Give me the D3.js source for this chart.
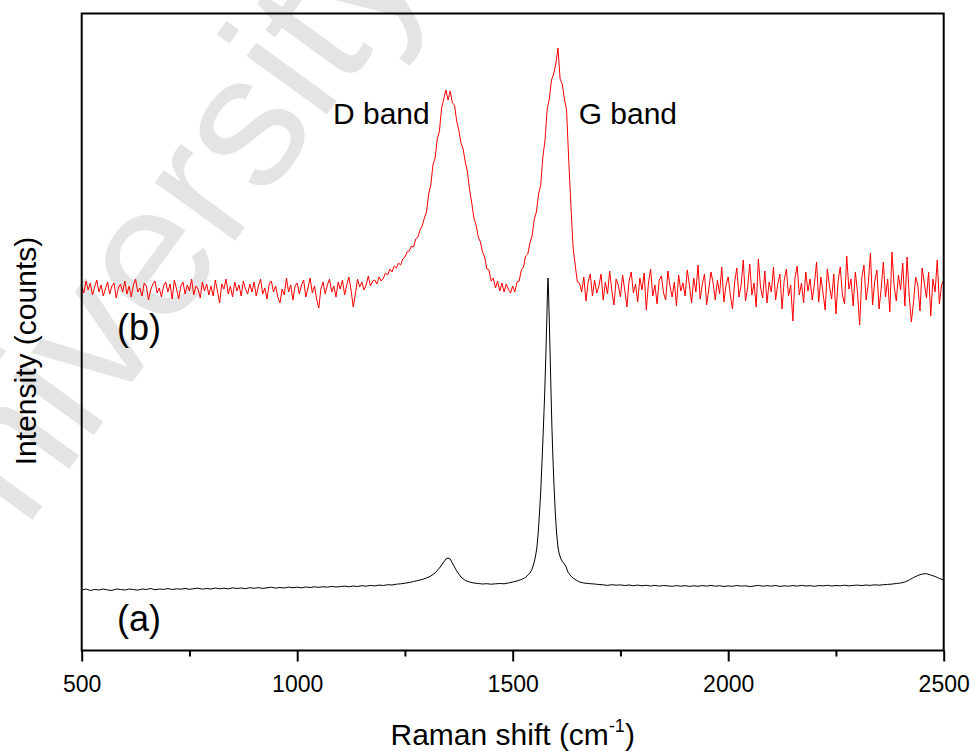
<!DOCTYPE html>
<html>
<head>
<meta charset="utf-8">
<script src="https://cdn.jsdelivr.net/npm/d3@7"></script>
<style>
  body { margin: 0; background: #fff; }
  text { font-family: "Liberation Sans", Arial, sans-serif; }
</style>
</head>
<body>
<div id="chart"></div>
<script>
// x axis ticks (Raman shift, cm-1)
var majorTicks = [500, 1000, 1500, 2000, 2500];
var minorTicks = [750, 1250, 1750, 2250];

// spectrum (a): [raman shift, intensity] pairs
var spectrumA = [
  [500,62],[510,63],[520,61.5],[530,62.5],[540,62],[550,63],[560,62],[570,61.5],[580,63],[590,62.5],
  [600,62],[610,63],[620,62.5],[630,61.8],[640,63],[650,62.5],[660,63.5],[670,62.2],[680,63],[690,62.6],
  [700,63.4],[710,62.5],[720,63.2],[730,62.8],[740,63.6],[750,62.7],[760,63.3],[770,63.8],[780,62.9],[790,63.5],
  [800,63],[810,64],[820,63.2],[830,63.8],[840,63.1],[850,64.2],[860,63.5],[870,64],[880,63.3],[890,64.3],
  [900,63.7],[910,64.4],[920,63.6],[930,64.2],[940,64.8],[950,63.9],[960,64.5],[970,64],[980,64.9],[990,64.3],
  [1000,64.8],[1010,64.2],[1020,65],[1030,64.5],[1040,65.2],[1050,64.6],[1060,65.3],[1070,64.8],[1080,65.6],[1090,65],
  [1100,65.4],[1110,65.9],[1120,65.2],[1130,66],[1140,65.5],[1150,66.3],[1160,65.8],[1170,66.6],[1180,66.1],[1190,66.9],
  [1200,66.5],[1210,67.3],[1220,67],[1230,67.8],[1240,68.2],[1250,68.8],[1260,69.5],[1270,70.5],[1280,71.5],[1290,72.5],
  [1300,74],[1310,76],[1320,79],[1330,84],[1335,87],[1340,90],[1345,93],[1350,94],[1355,93],[1360,89],
  [1365,85],[1370,81],[1380,75],[1390,71.5],[1400,70],[1410,69],[1420,68.5],[1430,68],[1440,68.3],[1450,67.8],
  [1460,68.2],[1470,68.5],[1480,68.2],[1490,69],[1500,70],[1510,71],[1520,72.5],[1530,74.5],[1535,77],[1540,79],
  [1545,83],[1550,90],[1553,96],[1556,104],[1559,118],[1562,138],[1565,160],[1568,190],[1571,222],[1574,256],
  [1577,298],[1579,330],[1581,365],[1582,374],[1583,362],[1585,330],[1587,295],[1589,258],[1591,225],[1593,198],
  [1596,165],[1599,138],[1602,118],[1605,105],[1608,98],[1612,93],[1616,90],[1620,88],[1624,85],[1628,80],
  [1635,76],[1640,74],[1647,72],[1655,70],[1665,69],[1675,68.5],[1690,68],
  [1700,67.5],[1710,67.2],[1720,66.6],[1730,67.3],[1740,66.8],[1750,67.1],[1760,66.5],[1770,67],[1780,66.3],[1790,66.9],
  [1800,66.2],[1810,66.7],[1820,66],[1830,66.6],[1840,65.9],[1850,66.5],[1860,66.1],[1870,65.7],[1880,66.4],[1890,65.8],
  [1900,66.3],[1910,65.6],[1920,66.2],[1930,65.7],[1940,66.4],[1950,65.9],[1960,66.6],[1970,65.8],[1980,66.3],[1990,65.5],
  [2000,66.1],[2010,65.7],[2020,66.5],[2030,65.9],[2040,66.2],[2050,65.4],[2060,66],[2070,66.6],[2080,65.8],[2090,66.3],
  [2100,65.9],[2110,66.5],[2120,65.6],[2130,66.2],[2140,65.8],[2150,66.4],[2160,65.9],[2170,66.6],[2180,66],[2190,66.3],
  [2200,65.7],[2210,66.4],[2220,66.1],[2230,66.7],[2240,66],[2250,66.5],[2260,66.2],[2270,66.8],[2280,66.1],[2290,66.6],
  [2300,66.9],[2310,66.4],[2320,67],[2330,66.6],[2340,67.2],[2350,66.8],[2360,67.3],[2370,67.6],[2380,67.9],[2390,68.5],
  [2400,69],[2410,70],[2420,72],[2430,74.5],[2440,76.5],[2450,78],[2460,78.3],[2470,77],[2480,75.5],[2490,73.5],
  [2500,72]
];

// spectrum (b): intensities every 5 cm-1 starting at 500
var spectrumBStart = 500;
var spectrumBStep = 5;
var spectrumB = [
  366,359,371,362,369,357,365,372,360,367,356,363,370,358,366,369,354,364,368,360,
  371,358,366,355,367,373,360,364,356,369,366,352,362,368,371,359,364,355,366,370,
  360,368,353,372,363,353,366,370,358,367,361,373,357,366,363,354,370,361,368,357,
  366,356,372,361,349,368,363,373,358,366,355,370,361,367,356,371,363,358,368,360,
  370,356,366,373,358,364,353,368,371,360,366,355,349,363,357,374,360,367,352,366,
  369,358,367,372,355,364,374,359,366,353,344,363,370,358,367,373,360,366,355,370,
  363,372,357,367,375,362,345,358,373,365,370,362,367,376,366,371,372,368,375,371,
  374,379,377,383,380,386,384,389,387,393,395,400,401,406,405,413,415,422,426,434,
  440,458,467,487,494,513,521,544,553,562,552,561,549,547,531,522,509,503,490,480,
  462,449,434,427,415,410,400,395,383,382,371,374,364,371,361,369,360,368,363,359,
  366,360,370,371,382,385,396,398,409,416,433,440,458,467,495,512,543,553,572,578,
  588,604,573,568,553,542,492,447,405,387,370,369,360,375,351,370,378,356,372,359,
  366,378,352,370,358,381,361,347,373,367,355,377,362,345,371,380,359,368,350,374,
  362,379,342,369,383,356,367,348,372,376,359,352,381,366,355,370,346,377,361,369,
  356,382,367,349,374,360,387,353,368,378,347,363,380,369,352,372,358,385,350,367,
  375,357,343,370,384,355,367,392,351,364,388,357,369,345,393,365,354,381,349,370,
  360,385,352,368,378,343,372,383,356,367,331,374,386,357,369,349,380,361,373,352,
  368,390,350,375,359,342,383,366,353,378,338,371,385,357,348,396,363,373,346,380,
  360,327,374,387,352,368,399,347,371,382,343,364,390,355,373,340,400,366,351,377,
  362,389,346,395,356,330,350,375,367,341,384,369,354,380,336,373,360,392,348,367,
  372
];

// text annotations, placed in data units (raman shift, intensity)
var bandLabels = [
  { text: "D band", x: 1083, y: 528 },
  { text: "G band", x: 1653, y: 528 }
];
var traceLabels = [
  { text: "(a)", x: 582, y: 21 },
  { text: "(b)", x: 582, y: 312 }
];

var width = 974, height = 751;
var margin = { top: 13.5, right: 30.3, bottom: 100.5, left: 81.7 };

var svg = d3.select('#chart').append('svg')
  .attr('width', width)
  .attr('height', height);

// faint watermark behind the plot
svg.append('text')
  .attr('transform', 'translate(-55,640) rotate(-54)')
  .style('font-size', '188px')
  .style('fill', '#e4e4e4')
  .text('University');

var x = d3.scaleLinear()
  .domain([500, 2500])
  .range([margin.left, width - margin.right]);

var y = d3.scaleLinear()
  .domain([1.5, 638.5])
  .range([height - margin.bottom, margin.top]);

svg.append('clipPath').attr('id', 'plot-clip')
  .append('rect')
  .attr('x', margin.left).attr('y', margin.top)
  .attr('width', x.range()[1] - x.range()[0])
  .attr('height', y.range()[0] - y.range()[1]);

var line = d3.line()
  .x(function(d) { return x(d[0]); })
  .y(function(d) { return y(d[1]); });

var bPoints = spectrumB.map(function(v, i) {
  return [spectrumBStart + i * spectrumBStep, v];
});

var plot = svg.append('g').attr('clip-path', 'url(#plot-clip)');

plot.append('path')
  .datum(bPoints)
  .attr('fill', 'none')
  .attr('stroke', '#ff0000')
  .attr('stroke-width', 1)
  .attr('d', line);

plot.append('path')
  .datum(spectrumA)
  .attr('fill', 'none')
  .attr('stroke', '#000')
  .attr('stroke-width', 1)
  .attr('d', line);

// frame
svg.append('rect')
  .attr('x', margin.left)
  .attr('y', margin.top)
  .attr('width', x.range()[1] - x.range()[0])
  .attr('height', y.range()[0] - y.range()[1])
  .attr('fill', 'none')
  .attr('stroke', '#000')
  .attr('stroke-width', 2);

// bottom axis: major ticks with labels, minor ticks without
var xAxis = svg.append('g')
  .attr('transform', 'translate(0,' + (height - margin.bottom) + ')')
  .call(d3.axisBottom(x).tickValues(majorTicks).tickSize(11).tickSizeOuter(0).tickPadding(14)
    .tickFormat(d3.format('d')));
xAxis.select('.domain').remove();
xAxis.selectAll('line').attr('stroke-width', 2);
xAxis.selectAll('text')
  .style('font-size', '23px')
  .style('font-family', '"Liberation Sans", Arial, sans-serif')
  .attr('fill', '#000');

var xMinor = svg.append('g')
  .attr('transform', 'translate(0,' + (height - margin.bottom) + ')')
  .call(d3.axisBottom(x).tickValues(minorTicks).tickSize(6).tickSizeOuter(0).tickFormat(''));
xMinor.select('.domain').remove();
xMinor.selectAll('line').attr('stroke-width', 2);

// axis titles
var xTitle = svg.append('text')
  .attr('x', (x.range()[0] + x.range()[1]) / 2)
  .attr('y', 745)
  .attr('text-anchor', 'middle')
  .style('font-size', '30px');
xTitle.append('tspan').text('Raman shift (cm');
xTitle.append('tspan').attr('dy', -13).style('font-size', '18px').text('-1');
xTitle.append('tspan').attr('dy', 13).text(')');

svg.append('text')
  .attr('transform', 'translate(36,351) rotate(-90)')
  .attr('text-anchor', 'middle')
  .style('font-size', '30px')
  .text('Intensity (counts)');

// band labels
svg.selectAll('.band-label')
  .data(bandLabels)
  .enter().append('text')
  .attr('class', 'band-label')
  .attr('x', function(d) { return x(d.x); })
  .attr('y', function(d) { return y(d.y); })
  .style('font-size', '30px')
  .text(function(d) { return d.text; });

// trace labels
svg.selectAll('.trace-label')
  .data(traceLabels)
  .enter().append('text')
  .attr('class', 'trace-label')
  .attr('x', function(d) { return x(d.x); })
  .attr('y', function(d) { return y(d.y); })
  .style('font-size', '36px')
  .text(function(d) { return d.text; });
</script>
</body>
</html>
